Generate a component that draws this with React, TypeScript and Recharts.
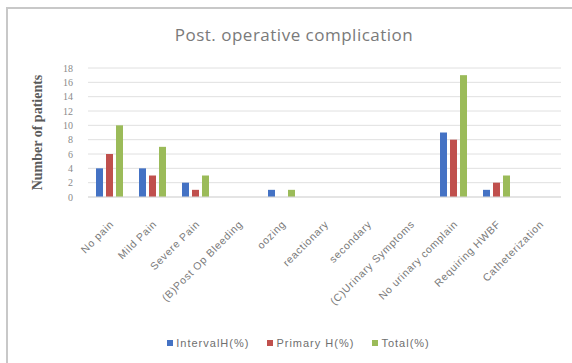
import React from 'react';
import { BarChart, Bar, XAxis, YAxis, CartesianGrid, Legend } from 'recharts';

const categories = [
  'No pain',
  'Mild Pain',
  'Severe Pain',
  '(B)Post Op Bleeding',
  'oozing',
  'reactionary',
  'secondary',
  '(C)Urinary Symptoms',
  'No urinary complain',
  'Requiring HWBF',
  'Catheterization',
];
const intervalH = [4, 4, 2, 0, 1, 0, 0, 0, 9, 1, 0];
const primaryH = [6, 3, 1, 0, 0, 0, 0, 0, 8, 2, 0];
const total = [10, 7, 3, 0, 1, 0, 0, 0, 17, 3, 0];
const yTicks = [0, 2, 4, 6, 8, 10, 12, 14, 16, 18];

const series = [
  { key: 'interval', name: 'IntervalH(%)', color: '#4472C4', values: intervalH },
  { key: 'primary', name: 'Primary H(%)', color: '#C0504D', values: primaryH },
  { key: 'total', name: 'Total(%)', color: '#9BBB59', values: total },
];

const chartData = categories.map((c, i) => ({
  name: c,
  interval: intervalH[i],
  primary: primaryH[i],
  total: total[i],
}));

// rotated category labels, text ends at the tick
const XTick = (props: any) => {
  const { x, y, payload } = props;
  return (
    <g transform={`translate(${x + 2},${y + 17})`}>
      <text
        x={0}
        y={0}
        dy={4}
        transform="rotate(-45)"
        textAnchor="end"
        fontSize={10.5}
        letterSpacing={0.7}
        fontFamily="'Liberation Sans', Arial, sans-serif"
        fill="#7a7a7a"
      >
        {payload.value}
      </text>
    </g>
  );
};

const LegendRow = () => (
  <div
    style={{
      display: 'flex',
      justifyContent: 'center',
      gap: 18,
      fontSize: 11,
      letterSpacing: 1,
      fontFamily: "'Liberation Sans', Arial, sans-serif",
      color: '#6f6f6f',
      height: 16,
      alignItems: 'center',
      paddingLeft: 36,
    }}
  >
    {series.map(s => (
      <div key={s.key} style={{ display: 'flex', alignItems: 'center' }}>
        <span style={{ width: 6, height: 6, background: s.color, display: 'inline-block', marginRight: 3 }} />
        <span>{s.name}</span>
      </div>
    ))}
  </div>
);

export default function App() {
  return (
    <div style={{ position: 'absolute', left: 0, top: 0, width: 572, height: 363, background: '#fff', overflow: 'hidden' }}>
      {/* chart frame */}
      <div
        style={{
          position: 'absolute',
          left: 6,
          top: 7,
          width: 580,
          height: 380,
          border: '2px solid #c8c8c8',
          boxSizing: 'border-box',
        }}
      />
      <div
        style={{
          position: 'absolute',
          left: 0,
          top: 23,
          width: 588,
          textAlign: 'center',
          fontSize: 17,
          letterSpacing: 0.5,
          fontFamily: "'Open Sans', 'Liberation Sans', sans-serif",
          color: '#7a7a7a',
        }}
      >
        Post. operative complication
      </div>
      <div style={{ position: 'absolute', left: 0, top: 0 }}>
        <BarChart
          width={572}
          height={363}
          data={chartData}
          margin={{ top: 68, right: 11, left: 0, bottom: 12 }}
          barGap={3}
          barSize={7}
        >
          <CartesianGrid vertical={false} stroke="#e0e0e0" />
          <XAxis
            dataKey="name"
            interval={0}
            height={138}
            tick={<XTick />}
            tickLine={false}
            axisLine={{ stroke: '#d9d9d9' }}
          />
          <YAxis
            width={88}
            domain={[0, 18]}
            ticks={yTicks}
            interval={0}
            tickLine={false}
            axisLine={false}
            tickSize={0}
            tickMargin={15}
            tick={{ fontSize: 10, fill: '#8a8a8a', fontFamily: "'Liberation Serif', serif" }}
            label={{
              value: 'Number of patients',
              angle: -90,
              position: 'insideLeft',
              offset: 37,
              style: {
                textAnchor: 'middle',
                fontSize: 14,
                fontWeight: 'bold',
                fontFamily: "'Liberation Serif', serif",
                fill: '#5a5a5a',
              },
            }}
          />
          <Legend verticalAlign="bottom" content={<LegendRow />} />
          {series.map(s => (
            <Bar key={s.key} dataKey={s.key} name={s.name} fill={s.color} isAnimationActive={false} />
          ))}
        </BarChart>
      </div>
    </div>
  );
}
